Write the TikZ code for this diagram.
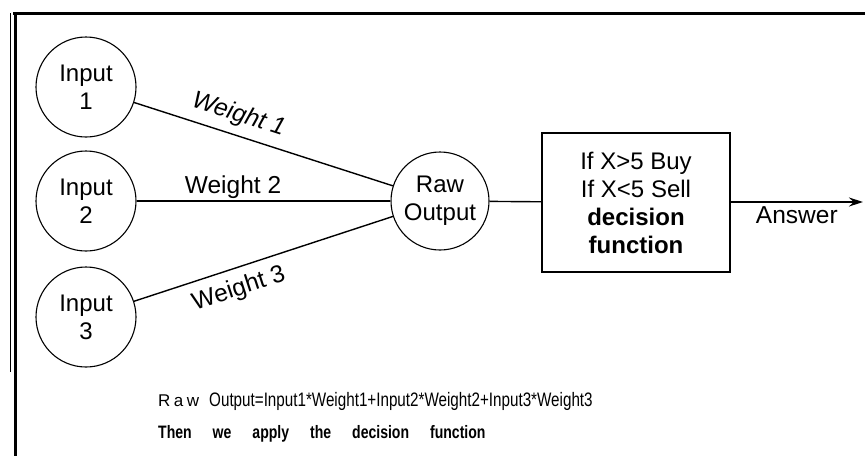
\documentclass[tikz,border=0pt]{standalone}
\usepackage{fontspec}
\setmainfont{Liberation Sans}
\newfontfamily\narrowsans[FakeStretch=0.78]{Liberation Sans}
\usetikzlibrary{arrows.meta}
\begin{document}
\begin{tikzpicture}[x=1pt,y=-1pt,
  neuron/.style={draw,circle,line width=1.1pt,minimum size=100pt,inner sep=0pt,align=center,
    font=\fontsize{24}{28}\selectfont},
  conn/.style={line width=1.4pt},
  wlabel/.style={font=\fontsize{24.5}{28}\selectfont,inner sep=3pt},
  decbox/.style={draw,line width=1.3pt,minimum width=188pt,minimum height=139pt,inner sep=0pt,
    align=center,font=\fontsize{24}{28}\selectfont},
  frame/.style={line width=3pt}]
\useasboundingbox (0,0) rectangle (865,459);
% frame
\draw[frame] (13,13) -- (865,13);
\draw[frame] (15,13) -- (15,456);
\draw[line width=0.8pt] (10,13) -- (10,372);
% nodes
\node[neuron] (in1) at (86,87) {Input\\1};
\node[neuron] (in2) at (86,201) {Input\\2};
\node[neuron] (in3) at (86,317) {Input\\3};
\node[neuron,minimum size=98pt] (raw) at (440,201) {Raw\\Output};
\node[decbox] (dec) at (636,202.5) {If X>5 Buy\\If X<5 Sell\\\textbf{decision}\\\textbf{function}};
\coordinate (ans) at (863,202);
% connectors
\draw[conn] (in1) -- node[wlabel,pos=0.38,sloped,above=5pt] {\textit{Weight 1}} (raw);
\draw[conn] (in2) -- node[wlabel,pos=0.38,above,inner sep=2pt] {Weight 2} (raw);
\draw[conn] (in3) -- node[wlabel,pos=0.38,sloped,below=6pt] {Weight 3} (raw);
\draw[conn] (raw) -- (dec);
\draw[conn,-{Stealth[length=14pt,width=9pt]}] (dec.east |- ans) -- node[wlabel,pos=0.5,below,inner sep=4pt] {Answer} (ans);
% bottom text
\node[anchor=base west,inner sep=0pt] (eq) at (158,406)
  {{\fontsize{17}{17}\selectfont R\hspace{3.5pt}a\hspace{3.5pt}w}\hspace{10pt}{\narrowsans\fontsize{19.5}{20}\selectfont Output=Input1*Weight1+Input2*Weight2+Input3*Weight3}};
\node[anchor=base west,inner sep=0pt] (then) at (158,438)
  {\narrowsans\bfseries\fontsize{18}{20}\selectfont Then\hspace{21pt}we\hspace{21pt}apply\hspace{21pt}the\hspace{21pt}decision\hspace{21pt}function};
\end{tikzpicture}
\end{document}
